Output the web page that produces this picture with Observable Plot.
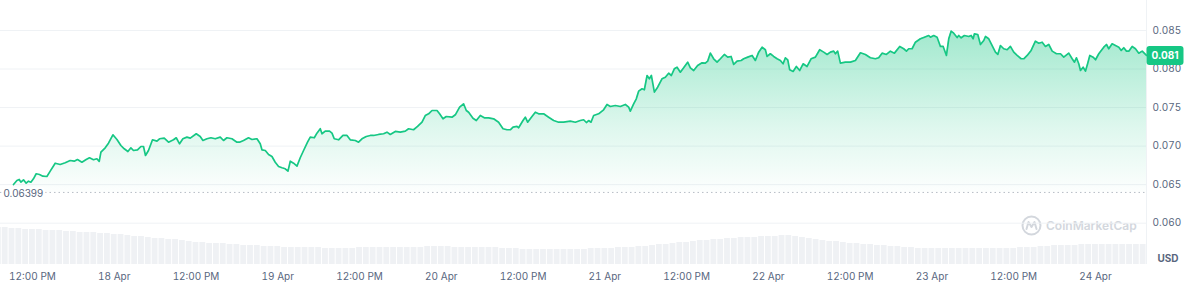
<!DOCTYPE html>
<html><head><meta charset="utf-8">
<script src="https://cdn.jsdelivr.net/npm/d3@7"></script>
<script src="https://cdn.jsdelivr.net/npm/@observablehq/plot@0.6"></script>
<style>
html,body{margin:0;padding:0;background:#fff;}
#wrap{position:relative;width:1186px;height:285px;overflow:hidden;font-family:Inter,sans-serif;}
#wrap > svg{position:absolute;left:0;top:0;}
#wm{position:absolute;left:1021px;top:215px;width:130px;display:flex;align-items:center;gap:4px;color:#d3d7dd;font:600 12px Inter,sans-serif;white-space:nowrap;}
</style></head><body><div id="wrap"></div>
<script>
// hours since 18 Apr 00:00 UTC, price in USD
const priceSeries = [
[-14.78,0.06502],[-14.28,0.06554],[-13.94,0.06567],[-13.70,0.06532],[-13.31,0.06563],[-12.92,0.06519],[-12.58,0.06545],[-12.23,0.06532],[-11.85,0.06576],[-11.45,0.06641],[-10.97,0.06632],[-10.47,0.06610],[-9.88,0.06606],[-9.39,0.06675],[-8.66,0.06778],[-7.93,0.06762],[-7.19,0.06784],[-6.46,0.06813],[-5.87,0.06804],[-5.39,0.06826],[-4.74,0.06791],[-4.11,0.06826],[-3.63,0.06849],[-3.04,0.06823],[-2.54,0.06836],[-2.20,0.06801],[-1.95,0.06921],[-1.32,0.06978],[-0.84,0.07038],[-0.19,0.07147],[0.40,0.07086],[0.98,0.07008],[1.47,0.06965],[2.01,0.06930],[2.45,0.06978],[2.83,0.06943],[3.42,0.06952],[3.92,0.06995],[4.30,0.06995],[4.59,0.06878],[5.03,0.06943],[5.62,0.07082],[6.27,0.07064],[6.65,0.07095],[7.34,0.07103],[7.97,0.07051],[8.70,0.07082],[9.10,0.07108],[9.59,0.07030],[10.08,0.07095],[10.67,0.07116],[11.16,0.07103],[12.04,0.07160],[12.62,0.07125],
[13.02,0.07073],[13.61,0.07095],[14.19,0.07108],[14.83,0.07095],[15.56,0.07116],[16.04,0.07073],[16.54,0.07108],[17.28,0.07095],[18.01,0.07051],[18.39,0.07051],[18.98,0.07073],[19.71,0.07108],[20.21,0.07086],[20.95,0.07095],[21.43,0.07030],[21.68,0.06952],[22.17,0.06943],[22.65,0.06891],[23.15,0.06865],[23.63,0.06791],[24.12,0.06736],[24.62,0.06719],[25.10,0.06706],[25.50,0.06675],[25.84,0.06804],[26.32,0.06778],[26.82,0.06740],[27.30,0.06849],[27.79,0.06943],[28.37,0.07051],[28.77,0.07116],[29.36,0.07108],[29.75,0.07168],[30.24,0.07225],[30.49,0.07160],[30.97,0.07194],[31.60,0.07194],[31.96,0.07168],[32.29,0.07095],[32.93,0.07082],[33.57,0.07138],[34.16,0.07138],[34.64,0.07082],[35.38,0.07073],[35.86,0.07051],[36.36,0.07095],[36.99,0.07125],[37.58,0.07138],[38.06,0.07138],[38.80,0.07151],[39.53,0.07160],[40.03,0.07181],[40.51,0.07151],
[41.25,0.07190],[41.98,0.07181],[42.72,0.07194],[43.20,0.07225],[43.93,0.07212],[44.52,0.07255],[45.17,0.07310],[45.65,0.07397],[46.14,0.07419],[46.64,0.07462],[47.37,0.07462],[47.75,0.07419],[48.25,0.07354],[48.73,0.07384],[49.57,0.07375],[50.06,0.07406],[50.69,0.07505],[51.27,0.07549],[51.67,0.07462],[52.01,0.07440],[52.65,0.07362],[53.14,0.07332],[53.73,0.07397],[54.31,0.07367],[54.94,0.07367],[55.68,0.07354],[56.41,0.07310],[57.06,0.07225],[57.65,0.07212],[58.13,0.07212],[58.53,0.07246],[59.11,0.07255],[59.35,0.07238],[59.99,0.07332],[60.33,0.07375],[60.67,0.07310],[61.31,0.07384],[61.80,0.07440],[62.28,0.07419],[63.02,0.07419],[63.75,0.07375],[64.49,0.07332],[65.22,0.07310],[65.95,0.07310],[66.94,0.07323],[67.67,0.07310],[68.40,0.07332],
[68.89,0.07342],[69.29,0.07306],[69.62,0.07332],[69.97,0.07310],[70.36,0.07397],[71.09,0.07419],[71.82,0.07471],[72.32,0.07540],[72.81,0.07514],[73.54,0.07527],[74.28,0.07514],[75.01,0.07540],[75.50,0.07505],[75.74,0.07453],[76.23,0.07549],[76.62,0.07614],[76.96,0.07713],[77.46,0.07744],[77.80,0.07731],[78.20,0.07916],[78.53,0.07873],[78.83,0.07916],[79.27,0.07700],[79.75,0.07764],[80.39,0.07873],[80.88,0.07894],[81.37,0.07946],[81.76,0.07916],[82.20,0.08003],[82.60,0.08024],[83.08,0.07959],[83.57,0.08016],[84.16,0.08089],[84.55,0.08016],[85.04,0.07981],[85.62,0.08046],[86.27,0.08081],[86.75,0.08076],[87.09,0.08102],[87.49,0.08206],[87.97,0.08133],[88.47,0.08089],[88.96,0.08133],[89.54,0.08189],[90.03,0.08154],[90.53,0.08163],[90.91,0.08059],[91.41,0.08102],[92.00,0.08111],[92.38,0.08133],[92.97,0.08154],[93.61,0.08176],[94.09,0.08111],[94.58,0.08219],[95.08,0.08283],[95.56,0.08250],
[95.81,0.08163],[96.29,0.08198],[96.78,0.08163],[97.28,0.08133],[97.76,0.08111],[98.16,0.08068],[98.50,0.08146],[98.84,0.08120],[99.13,0.07990],[99.63,0.07968],[100.11,0.08033],[100.60,0.07981],[101.10,0.08068],[101.68,0.08033],[102.27,0.08133],[102.90,0.08154],[103.53,0.08250],[104.12,0.08219],[104.62,0.08189],[105.10,0.08219],[105.59,0.08232],[105.84,0.08198],[106.17,0.08232],[106.57,0.08076],[107.30,0.08089],[108.04,0.08089],[108.77,0.08111],[109.51,0.08211],[110.24,0.08189],[110.97,0.08146],[111.71,0.08133],[112.19,0.08146],[112.69,0.08206],[113.32,0.08189],[113.91,0.08232],[114.50,0.08206],[115.28,0.08293],[115.86,0.08263],[116.26,0.08232],[116.60,0.08263],[117.09,0.08263],[117.58,0.08348],[118.31,0.08392],[118.90,0.08413],[119.53,0.08435],[119.78,0.08413],[120.27,0.08435],[120.76,0.08413],[121.25,0.08293],[121.65,0.08293],[122.13,0.08176],[122.47,0.08392],[122.82,0.08491],[123.20,0.08465],
[123.70,0.08409],[123.94,0.08435],[124.29,0.08405],[124.77,0.08435],[125.40,0.08422],[125.76,0.08435],[126.05,0.08392],[126.24,0.08457],[126.73,0.08448],[127.12,0.08318],[127.61,0.08370],[127.86,0.08422],[128.34,0.08392],[128.84,0.08305],[129.32,0.08219],[129.67,0.08189],[130.06,0.08305],[130.54,0.08263],[131.04,0.08250],[131.52,0.08293],[132.01,0.08219],[132.51,0.08176],[133.09,0.08133],[133.48,0.08133],[133.98,0.08176],[134.56,0.08241],[135.19,0.08361],[135.68,0.08335],[136.18,0.08348],[136.66,0.08293],[137.15,0.08318],[137.65,0.08232],[138.28,0.08198],[138.87,0.08198],[139.35,0.08154],[140.08,0.08206],[140.58,0.08133],[140.92,0.08089],[141.21,0.08146],[141.55,0.08068],[141.80,0.07981],[142.19,0.08024],[142.53,0.07972],[142.87,0.08076],[143.17,0.08176],[143.66,0.08154],[144.01,0.08120],[144.49,0.08198],[145.22,0.08283],[145.62,0.08318],[145.95,0.08263],[146.45,0.08327],[146.94,0.08305],[147.43,0.08283],[147.78,0.08241],[148.16,0.08276],[148.55,0.08232],[148.89,0.08232],[149.39,0.08293],[149.87,0.08263],[150.36,0.08206],[150.86,0.08232],[151.49,0.08176]
];
// hourly volume (relative units), starting at hour -17
const volumeStartHour = -17;
const volumeSeries = [37,37,
36,36,35,35,35,34,34, 34,33,33,32,32,32,31, 31,30,30,29,28,28,27, 26,26,25,25,24,23,22,
22,21,21,21,20,20,19, 19,19,18,18,18,17,17, 17,17,17,17,16,16,16, 16,16,17,17,17,17,17,
17,17,17,17,17,18,18, 18,18,17,17,17,17,17, 17,17,16,16,16,15,15, 15,15,15,15,15,15,15,
15,16,16,16,16,17,17, 17,18,18,19,20,20,21, 22,22,23,24,24,25,25, 26,26,27,27,27,28,28,
28,29,29,28,27,26,25, 24,23,23,22,21,21,20, 20,19,19,18,18,17,17, 16,16,16,16,16,16,16,
16,16,16,16,16,16,16, 16,17,17,17,18,18,19, 19,19,19,20,20,20,20, 20,20,20,20,20,20];
const yTicks = [0.060, 0.065, 0.070, 0.075, 0.080, 0.085];
const xTickHours = [-12, 0, 12, 24, 36, 48, 60, 72, 84, 96, 108, 120, 132, 144];
const xTickLabels = ["12:00 PM","18 Apr","12:00 PM","19 Apr","12:00 PM","20 Apr","12:00 PM","21 Apr","12:00 PM","22 Apr","12:00 PM","23 Apr","12:00 PM","24 Apr"];
const lowPrice = 0.06399;
const currentLabel = "0.081";
const currency = "USD";

const baseTime = Date.UTC(2024, 3, 18, 0, 0);
const toDate = h => new Date(baseTime + h * 3600e3);
const prices = priceSeries.map(([h, p]) => ({date: toDate(h), price: p}));
const volumes = volumeSeries.map((v, i) => ({start: toDate(volumeStartHour + i - 0.5), end: toDate(volumeStartHour + i + 0.5), volume: v}));
const xTicks = xTickHours.map(toDate);
const labelByTime = new Map(xTicks.map((d, i) => [+d, xTickLabels[i]]));
const xDomain = d3.extent(prices, d => d.date);
const last = prices[prices.length - 1];

const W = 1186, H = 285, MR = 40, MB = 21, X0 = 13;
const font = "Inter, sans-serif";

const volPlot = Plot.plot({
  width: W, height: H, marginTop: 0, marginLeft: 0, marginRight: MR, marginBottom: MB,
  style: {background: "transparent"},
  x: {type: "utc", domain: xDomain, range: [X0, W - MR], axis: null},
  y: {domain: [0, 40], range: [H - MB, H - MB - 40], axis: null},
  marks: [
    Plot.rect(volumes, {x1: "start", x2: "end", y1: 0, y2: "volume", fill: "#eff1f4", insetLeft: 0.5, insetRight: 0.5})
  ]
});

const labelBox = {draw(ctx) {
  const w = 37, h = 19, r = 3, x0 = -w / 2, y0 = -h / 2;
  ctx.moveTo(x0 + r, y0);
  ctx.arcTo(x0 + w, y0, x0 + w, y0 + h, r);
  ctx.arcTo(x0 + w, y0 + h, x0, y0 + h, r);
  ctx.arcTo(x0, y0 + h, x0, y0, r);
  ctx.arcTo(x0, y0, x0 + w, y0, r);
  ctx.closePath();
}};

const gradientDefs = () => {
  const ns = "http://www.w3.org/2000/svg";
  const defs = document.createElementNS(ns, "defs");
  defs.innerHTML = `<linearGradient id="pgrad" x1="0" y1="0" x2="0" y2="1">
    <stop offset="0" stop-color="#16c784" stop-opacity="0.40"/>
    <stop offset="0.6" stop-color="#16c784" stop-opacity="0.14"/>
    <stop offset="1" stop-color="#16c784" stop-opacity="0.01"/></linearGradient>`;
  return defs;
};

const pricePlot = Plot.plot({
  width: W, height: H, marginTop: 0, marginLeft: 0, marginRight: MR, marginBottom: MB,
  style: {background: "transparent", fontFamily: font, fontSize: "10px", color: "#58667e", overflow: "visible"},
  x: {type: "utc", domain: xDomain, range: [X0, W - MR], ticks: xTicks, tickFormat: d => labelByTime.get(+d) ?? "", tickSize: 0, tickPadding: 8, label: null},
  y: {domain: [0.05464, 0.08889], axis: "right", ticks: yTicks, tickFormat: d3.format(".3f"), tickSize: 0, tickPadding: 6, label: null},
  marks: [
    gradientDefs,
    Plot.ruleY(yTicks, {stroke: "#eff2f5"}),
    Plot.ruleX([xDomain[1]], {stroke: "#eff2f5"}),
    Plot.areaY(prices, {x: "date", y1: lowPrice, y2: "price", fill: "url(#pgrad)"}),
    Plot.ruleY([lowPrice], {stroke: "#b6bcc5", strokeDasharray: "1.5,3"}),
    Plot.lineY(prices, {x: "date", y: "price", stroke: "#16c784", strokeWidth: 1.7}),
    Plot.text([lowPrice], {y: d => d, frameAnchor: "left", textAnchor: "start", dx: 3, dy: 1, text: d => d3.format(".5f")(d), fill: "#58667e", stroke: "white", strokeWidth: 5, fontSize: 10}),
    Plot.dot([last], {x: "date", y: "price", dx: 18.5, symbol: labelBox, fill: "#16c784", stroke: null}),
    Plot.text([last], {x: "date", y: "price", dx: 18.5, text: () => currentLabel, fill: "white", fontWeight: "bold", fontSize: 10}),
    Plot.text([currency], {frameAnchor: "bottom-right", textAnchor: "start", dx: 11, dy: -3, text: d => d, fill: "#58667e", fontWeight: "bold", fontSize: 10})
  ]
});

const wrap = document.getElementById("wrap");
wrap.appendChild(volPlot);
const wm = document.createElement("div");
wm.id = "wm";
wm.innerHTML = `<svg width="21" height="21" viewBox="0 0 21 21" style="position:static;flex:none"><circle cx="10.5" cy="10.5" r="9" fill="none" stroke="#d3d7dd" stroke-width="2"/><path d="M5.5 14 L7.5 7 L10.5 12 L13.5 7 L15.5 14" fill="none" stroke="#d3d7dd" stroke-width="2" stroke-linejoin="round" stroke-linecap="round"/></svg><span>CoinMarketCap</span>`;
wrap.appendChild(wm);
wrap.appendChild(pricePlot);
</script></body></html>
